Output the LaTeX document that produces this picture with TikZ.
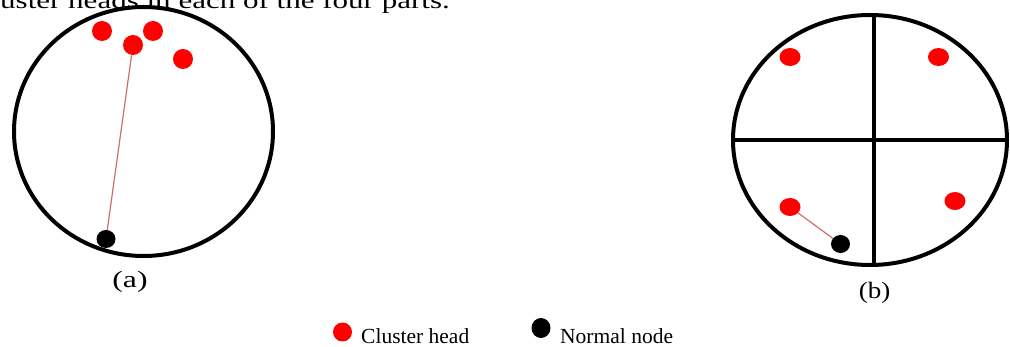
\documentclass[tikz,border=0pt]{standalone}
\usepackage{fontspec}
\setmainfont{Liberation Serif}
\usetikzlibrary{shapes.geometric}
\definecolor{chred}{RGB}{255,0,0}
\definecolor{linkred}{RGB}{205,110,110}
\tikzset{
  head/.style={ellipse, fill=chred, draw=none, inner sep=0pt, minimum width=#1},
  head/.default=20pt,
  normal/.style={ellipse, fill=black, draw=none, inner sep=0pt, minimum width=19pt, minimum height=18pt},
  field/.style={draw=black, line width=4pt},
  divider/.style={draw=black, line width=3.5pt},
  link/.style={draw=linkred, line width=1.2pt},
  lbl/.style={inner sep=0pt, font=\fontsize{23.5}{26}\selectfont},
  legend/.style={inner sep=0pt, font=\fontsize{21.5}{24}\selectfont}
}
\begin{document}
\begin{tikzpicture}[x=1pt,y=-1pt]
\useasboundingbox (0,0) rectangle (1010,347);
\clip (0,0) rectangle (1010,347);
% heading fragment
\node[lbl, anchor=base east] (title) at (450,9) {\scalebox{1.32}[1]{Cluster heads in each of the four parts.}};
% (a)
\draw[field] (143.5,131.5) ellipse [x radius=129.5, y radius=124.5];
\node[head, minimum height=20pt] (a1) at (102,31) {};
\node[head, minimum height=20pt] (a2) at (133,45) {};
\node[head, minimum height=20pt] (a3) at (153,31) {};
\node[head, minimum height=20pt] (a4) at (183,59) {};
\node[normal] (an) at (106,239) {};
\draw[link] (a2) -- (an);
\node[lbl, anchor=base] (la) at (130,288) {\scalebox{1.35}[1]{(a)}};
% (b)
\draw[field] (870,140) ellipse [x radius=137, y radius=125];
\coordinate (vt) at (874,15);
\coordinate (vb) at (874,265);
\coordinate (hl) at (733,140);
\coordinate (hr) at (1007,140);
\draw[divider] (vt) -- (vb);
\draw[divider] (hl) -- (hr);
\node[head=21pt, minimum height=18pt] (b1) at (790,57) {};
\node[head=21pt, minimum height=18pt] (b2) at (938.5,57) {};
\node[head=21pt, minimum height=18pt] (b3) at (790,207) {};
\node[head=21pt, minimum height=18pt] (b4) at (955,201) {};
\node[normal] (bn) at (840.5,244) {};
\draw[link] (b3) -- (bn);
\node[lbl, anchor=base] (lb) at (874.5,299) {\scalebox{1.15}[1]{(b)}};
% legend
\node[head=19pt, minimum height=19pt] (kh) at (342.5,332) {};
\node[legend, anchor=base west] (kht) at (361,344) {Cluster head};
\node[normal, minimum width=19pt, minimum height=20pt] (kn) at (541,328) {};
\node[legend, anchor=base west] (knt) at (560,344) {Normal node};
\end{tikzpicture}
\end{document}
